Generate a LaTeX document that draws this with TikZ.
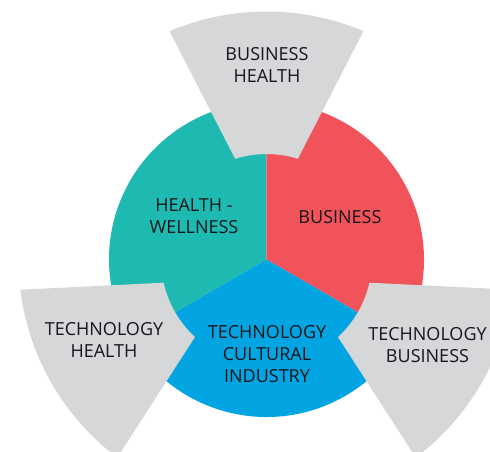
\documentclass[tikz,border=0pt]{standalone}
\usepackage{fontspec}
\setmainfont{Open Sans}
\definecolor{tealc}{RGB}{30,186,178}
\definecolor{redc}{RGB}{240,84,90}
\definecolor{bluec}{RGB}{3,164,226}
\definecolor{greyc}{RGB}{214,215,217}
\definecolor{textc}{RGB}{22,22,26}
\begin{document}
\begin{tikzpicture}[x=1pt,y=1pt,
  lbl/.style={inner sep=0pt,align=center,text=textc,font=\fontsize{18}{22}\selectfont},
  greyshape/.style={fill=greyc,draw=none}]
\useasboundingbox (-266.5,-191.5) rectangle (223.5,259.5);
\def\R{157.5}
% circle sectors
\fill[tealc] (0,0) -- (90:\R) arc[start angle=90,end angle=210,radius=\R] -- cycle;
\fill[redc] (0,0) -- (-30:\R) arc[start angle=-30,end angle=90,radius=\R] -- cycle;
\fill[bluec] (0,0) -- (210:\R) arc[start angle=210,end angle=330,radius=\R] -- cycle;
% grey truncated wedges
\foreach \rot in {0,120,240}{
  \begin{scope}[rotate=\rot]
    \fill[greyshape] (113:248) arc[start angle=113,end angle=67,radius=248]
      -- (72.7:105.5) arc[start angle=72.7,end angle=107.3,radius=105.5] -- cycle;
  \end{scope}
}
% labels
\node[lbl] (bh) at (0.5,194.5) {BUSINESS\\HEALTH};
\node[lbl] (hw) at (-72.5,43.5) {HEALTH -\\WELLNESS};
\node[lbl] (bu) at (73.5,42.5) {BUSINESS};
\node[lbl] (tci) at (0.5,-95) {TECHNOLOGY\\CULTURAL\\INDUSTRY};
\node[lbl] (th) at (-162.5,-80.5) {TECHNOLOGY\\HEALTH};
\node[lbl] (tb) at (161,-85.5) {TECHNOLOGY\\BUSINESS};
\end{tikzpicture}
\end{document}
